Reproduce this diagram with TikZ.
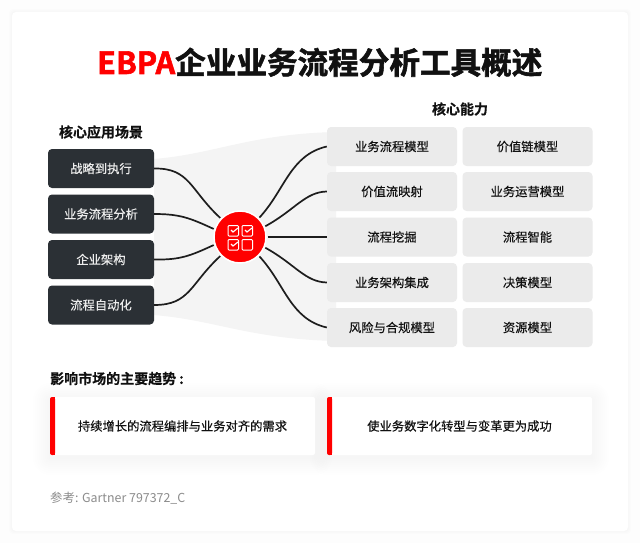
\documentclass[tikz,border=0pt]{standalone}
\usepackage{fontspec}
\setmainfont[FakeBold=0.35]{Noto Sans CJK SC}
\newfontfamily\titlefont[FakeBold=1.8]{Noto Sans CJK SC Bold}
\newfontfamily\headfont[FakeBold=0.3]{Noto Sans CJK SC Bold}
\newfontfamily\reffont{Noto Sans CJK SC}
\usetikzlibrary{calc}
\definecolor{pagebg}{HTML}{FDFDFD}
\definecolor{ebred}{HTML}{FF0000}
\definecolor{darkbox}{HTML}{2B3035}
\definecolor{greybox}{HTML}{EBEBEB}
\definecolor{bandgrey}{HTML}{F4F4F4}
\definecolor{inkblack}{HTML}{111111}
\tikzset{
  x=1pt,y=-1pt,
  leftbox/.style={draw=none,fill=darkbox,rounded corners=4pt,text=white!93!black,minimum width=106pt,minimum height=39pt,inner sep=0pt,font=\fontsize{12.3}{14}\selectfont},
  capbox/.style={fill=greybox,rounded corners=4pt,text=inkblack,minimum width=130pt,minimum height=39pt,inner sep=0pt,font=\fontsize{12.3}{14}\selectfont},
  heading/.style={text=inkblack,inner sep=0pt,font=\fontsize{14}{16}\selectfont\headfont},
  trendtext/.style={text=inkblack,inner sep=0pt,font=\fontsize{12.3}{14}\selectfont},
  conn/.style={draw=inkblack!95!white,line width=1.7pt},
  icon/.style={draw=white,line width=1pt,rounded corners=1pt},
  tick/.style={draw=white,line width=1.1pt},
  softshadow/.style={fill=black,fill opacity=0.0035,draw=none},
}
\newcommand{\softbox}[4]{%
  \foreach \s in {1,3,...,17}{
    \path[softshadow,rounded corners=\s pt] (#1-\s,#2-\s+3) rectangle (#3+\s,#4+\s+3);
  }%
}
\begin{document}
\begin{tikzpicture}
\useasboundingbox (0,0) rectangle (640,543);
\fill[pagebg] (0,0) rectangle (640,543);
% main card
\foreach \s in {1,2,3}{\path[fill=black,fill opacity=0.008,rounded corners=4pt] (12-\s,12-\s) rectangle (628+\s,531+\s);}
\fill[white,rounded corners=4pt] (12,12) rectangle (628,531);
% band behind connectors
\fill[bandgrey] (154,159) .. controls (215,154) and (250,134) .. (336,132)
  -- (336,341) .. controls (250,339) and (215,320) .. (154,315) -- cycle;
% title
\node[inner sep=0pt,anchor=base west,font=\fontsize{30.6}{34}\selectfont\titlefont] (title) at (97,74)
  {\textcolor{ebred}{EBPA}\textcolor{inkblack}{企业业务流程分析工具概述}};
% headings
\node[heading] (hleft) at (101,132) {核心应用场景};
\node[heading] (hright) at (460,109) {核心能力};
\node[heading,anchor=west] (htrend) at (50,378.5) {影响市场的主要趋势\kern3pt:};
% left boxes
\node[leftbox] (l1) at (101,168.5) {战略到执行};
\node[leftbox] (l2) at (101,214) {业务流程分析};
\node[leftbox] (l3) at (101,259.5) {企业架构};
\node[leftbox] (l4) at (101,305) {流程自动化};
% capability boxes
\node[capbox] (c11) at (392,146.5) {业务流程模型};
\node[capbox] (c12) at (527.5,146.5) {价值链模型};
\node[capbox] (c21) at (392,191.5) {价值流映射};
\node[capbox] (c22) at (527.5,191.5) {业务运营模型};
\node[capbox] (c31) at (392,237) {流程挖掘};
\node[capbox] (c32) at (527.5,237) {流程智能};
\node[capbox] (c41) at (392,282.5) {业务架构集成};
\node[capbox] (c42) at (527.5,282.5) {决策模型};
\node[capbox] (c51) at (392,327.5) {风险与合规模型};
\node[capbox] (c52) at (527.5,327.5) {资源模型};
% hub
\node[circle,fill=ebred,draw=white,line width=1.5pt,minimum size=52pt,inner sep=0pt,outer sep=1.5pt] (hub) at (240,237) {};
% connectors
\draw[conn] (l1.east) .. controls (190,168) and (190,190) .. (hub.136);
\draw[conn] (l2.east) .. controls (180,214) and (190,218) .. (hub.163);
\draw[conn] (l3.east) .. controls (180,260) and (190,256) .. (hub.197);
\draw[conn] (l4.east) .. controls (190,305) and (190,284) .. (hub.224);
\draw[conn] (hub.45) .. controls (285,190) and (290,155) .. (c11.west);
\draw[conn] (hub.23) .. controls (295,210) and (305,192) .. (c21.west);
\draw[conn] (hub.0) -- (c31.west);
\draw[conn] (hub.-23) .. controls (295,264) and (305,282) .. (c41.west);
\draw[conn] (hub.-45) .. controls (285,284) and (290,319) .. (c51.west);
% checklist icon
\draw[icon] (228,225.5) rectangle (238.5,236);
\draw[icon] (242,225.5) rectangle (252.5,236);
\draw[icon] (228,239.5) rectangle (238.5,250);
\draw[icon] (242,239.5) rectangle (252.5,250);
\draw[tick] (231,230) -- (233,232) -- (238,228);
\draw[tick] (245,230) -- (247,232) -- (252,228);
\draw[tick] (231,244) -- (233,246) -- (238,242);
% trend cards
\softbox{50}{397}{315}{455}
\softbox{327}{397}{592}{455}
\fill[white,rounded corners=2pt] (50,397) rectangle (315,455);
\fill[white,rounded corners=2pt] (327,397) rectangle (592,455);
\fill[ebred,rounded corners=2pt] (50,397) rectangle (55,455);
\fill[ebred] (53,397) rectangle (55,455);
\fill[ebred,rounded corners=2pt] (327,397) rectangle (332,455);
\fill[ebred] (330,397) rectangle (332,455);
\node[trendtext] (t1) at (182.5,426) {持续增长的流程编排与业务对齐的需求};
\node[trendtext] (t2) at (459.5,426) {使业务数字化转型与变革更为成功};
% reference
\node[anchor=west,inner sep=0pt,text=black!45,font=\fontsize{12.4}{14}\selectfont\reffont] (ref) at (50,498) {参考: Gartner 797372\_C};
\end{tikzpicture}
\end{document}
